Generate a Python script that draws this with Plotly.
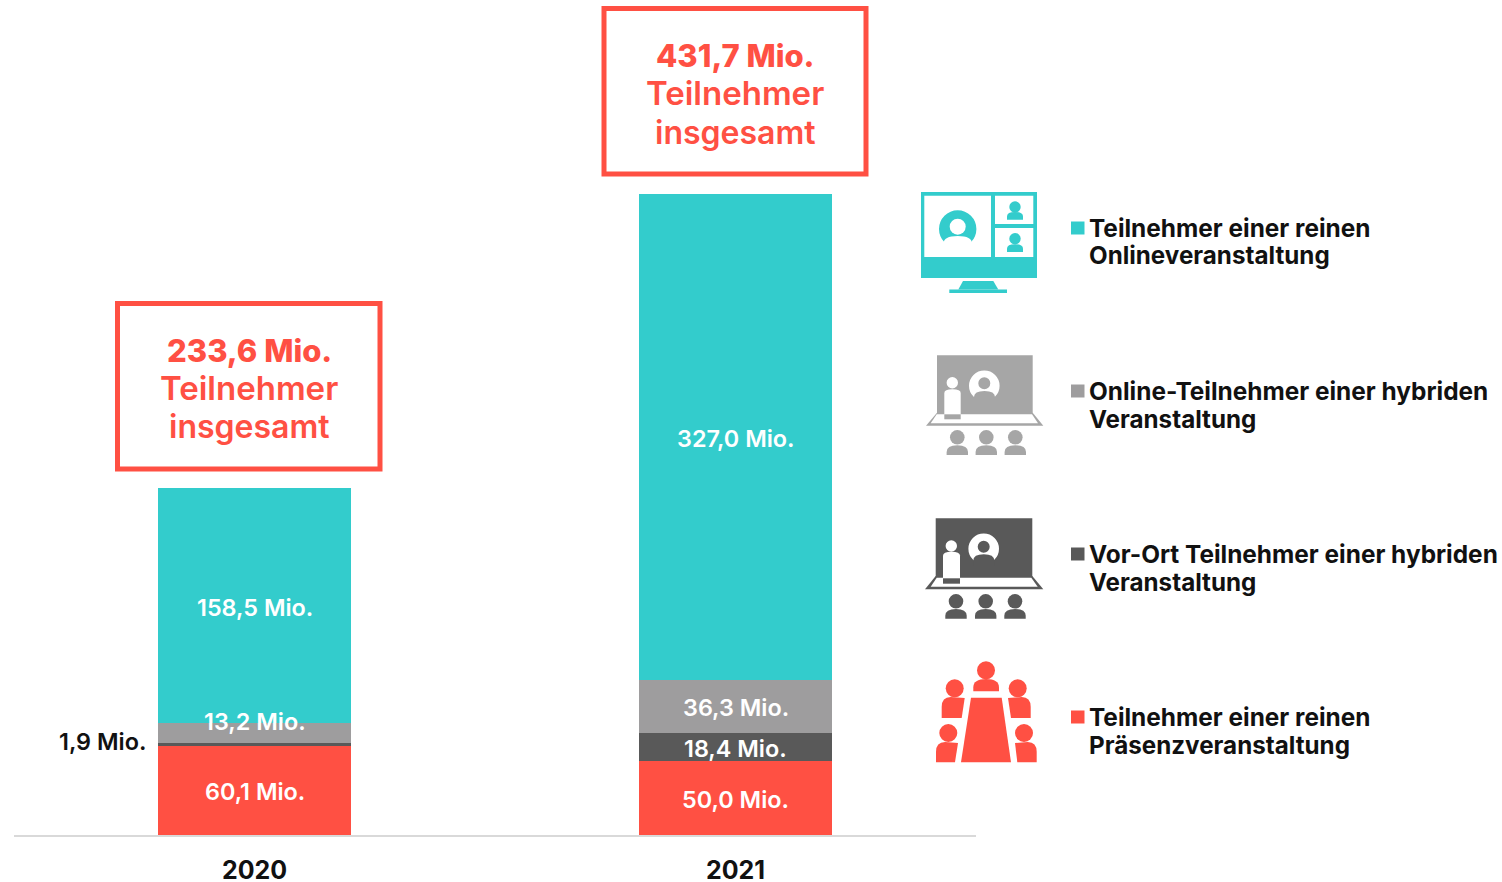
import plotly.graph_objects as go

W, H = 1502, 882
years = ["2020", "2021"]
praesenz = [60.1, 50.0]
vor_ort = [1.9, 18.4]
online_hybrid = [13.2, 36.3]
online = [158.5, 327.0]
totals = ["233,6 Mio.", "431,7 Mio."]
series_names = ["Teilnehmer einer reinen Präsenzveranstaltung", "Vor-Ort Teilnehmer einer hybriden Veranstaltung",
                "Online-Teilnehmer einer hybriden Veranstaltung", "Teilnehmer einer reinen Onlineveranstaltung"]
series_values = [praesenz, vor_ort, online_hybrid, online]
TEAL, GRAY, DARK, RED = "#33CCCC", "#9E9D9E", "#595959", "#FF5043"
ICON_GRAY = "#A6A6A6"
series_colors = [RED, DARK, GRAY, TEAL]
FONT = "Inter"

fig = go.Figure()
for name, vals, col in zip(series_names, series_values, series_colors):
    fig.add_bar(x=years, y=vals, name=name, marker=dict(color=col, line=dict(width=0)), showlegend=False)

px = lambda x: x / W
py = lambda y: (H - y) / H
shapes = []
annos = []


def rect(x0, y0, x1, y1, fill, line=None, lw=0):
    shapes.append(dict(type="rect", xref="paper", yref="paper", x0=px(x0), x1=px(x1), y0=py(y0), y1=py(y1),
                       fillcolor=fill, line=dict(color=line or fill, width=lw)))


def circle(cx, cy, r, fill):
    shapes.append(dict(type="circle", xref="paper", yref="paper", x0=px(cx - r), x1=px(cx + r), y0=py(cy - r),
                       y1=py(cy + r), fillcolor=fill, line=dict(width=0)))


def poly(pts, fill):
    d = "M" + " L".join(f"{px(x):.5f},{py(y):.5f}" for x, y in pts) + " Z"
    shapes.append(dict(type="path", xref="paper", yref="paper", path=d, fillcolor=fill, line=dict(width=0)))


def p(x, y):
    return f"{px(x):.5f},{py(y):.5f}"


def dome(l, r, top, bottom, fill, curve=0.55):
    c = (l + r) / 2
    m = top + (bottom - top) * curve
    d = f"M{p(l, bottom)} L{p(l, m)} Q{p(l, top)} {p(c, top)} Q{p(r, top)} {p(r, m)} L{p(r, bottom)} Z"
    shapes.append(dict(type="path", xref="paper", yref="paper", path=d, fillcolor=fill, line=dict(width=0)))


def side_body(outer, inner_b, inner_t, top, bottom, fill):
    # seat-side figure: rounded on its outer shoulder, slanted towards the table
    s = 1 if inner_b > outer else -1
    d = (f"M{p(outer, bottom)} L{p(inner_b, bottom)} L{p(inner_t, top + 1)} L{p(outer + s * 9, top)} "
         f"Q{p(outer, top)} {p(outer, top + 10)} Z")
    shapes.append(dict(type="path", xref="paper", yref="paper", path=d, fillcolor=fill, line=dict(width=0)))


def text(x, y, s, size, color, weight=600, xanchor="center"):
    annos.append(dict(xref="paper", yref="paper", x=px(x), y=py(y), text=s, showarrow=False, xanchor=xanchor,
                      yanchor="middle", font=dict(family=FONT, size=size, color=color, weight=weight),
                      borderpad=0, borderwidth=0))


def avatar(cx, cy, r, hy, hr, l, rr, top, bottom, ring, inner):
    circle(cx, cy, r, ring)
    circle(cx, hy, hr, inner)
    dome(l, rr, top, bottom, inner)


# Online icon
rect(921, 192, 1037, 278, TEAL)
rect(924.3, 195.7, 991, 257, "white")
rect(995, 195.7, 1033.3, 224, "white")
rect(995, 228, 1033.3, 257, "white")
poly([(963, 281), (993.3, 281), (998.3, 289.5), (958.3, 289.5)], TEAL)
rect(949.3, 289.5, 1007, 293, TEAL)
avatar(957.7, 229, 18.7, 226.7, 8, 943.5, 972, 236, 250, TEAL, "white")
for hy, t, b in [(207, 212, 219.7), (238.7, 244.3, 252)]:
    circle(1015, hy, 5.7, TEAL)
    dome(1007, 1023, t, b, TEAL)


# Hybrid icons
def hybrid(col, scr, base, inner, head, body, foot, av, aud_x, aud_hy, aud_t, aud_b):
    rect(*scr, col)
    poly(base, col)
    poly(inner, "white")
    circle(*head, "white")
    dome(*body, "white", curve=0.12)
    rect(*foot, col)
    avatar(*av, "white", col)
    for x in aud_x:
        circle(x, aud_hy, 7.3, col)
        dome(x - 10.7, x + 10.7, aud_t, aud_b, col, curve=0.7)


hybrid(ICON_GRAY, (937, 355.3, 1032.7, 415),
       [(937, 412.7), (1032.7, 412.7), (1043.3, 425.7), (926, 425.7)],
       [(936.7, 414.3), (1032, 414.3), (1038, 423.3), (930.7, 423.3)],
       (952.3, 382.7, 5.7), (944.3, 960.7, 389.3, 420), (944.3, 414.3, 960.7, 419.3),
       (984.3, 385.7, 15.3, 383.3, 6, 974, 995, 391, 402), [957.3, 986.3, 1015.3], 437.3, 445.3, 455)
hybrid(DARK, (935.7, 518.3, 1032.3, 577.3),
       [(935.7, 576), (1032.3, 576), (1043.3, 589.3), (925, 589.3)],
       [(936.7, 577.7), (1031.3, 577.7), (1037.7, 586.7), (930.7, 586.7)],
       (951.3, 546, 5.7), (943, 960, 551.7, 583.3), (943, 578.3, 960, 583.7),
       (983.7, 548.7, 15.3, 546.7, 6, 973.3, 994.3, 554.3, 566), [956, 985.7, 1015], 601.3, 609, 618.7)

# In-person icon
poly([(971, 697.7), (1001.7, 697.7), (1011, 762.3), (961, 762.3)], RED)
circle(986, 670.3, 9, RED)
dome(973.3, 999, 679, 691.3, RED, curve=0.7)
for cx, cy in [(954.7, 688.3), (1017.7, 688.3), (948.3, 733), (1024, 733)]:
    circle(cx, cy, 9, RED)
side_body(941.7, 961.7, 964.7, 697, 718, RED)
side_body(1030.7, 1011, 1008, 697, 718, RED)
side_body(936, 955, 958, 742, 762.3, RED)
side_body(1036.7, 1017.3, 1015, 742, 762.3, RED)

# Legend
legend_rows = [("Teilnehmer einer reinen", "Onlineveranstaltung", TEAL, 228),
               ("Online-Teilnehmer einer hybriden", "Veranstaltung", GRAY, 391),
               ("Vor-Ort Teilnehmer einer hybriden", "Veranstaltung", DARK, 554),
               ("Teilnehmer einer reinen", "Präsenzveranstaltung", RED, 717)]
for a, b, col, y in legend_rows:
    rect(1071, y - 6.5, 1084.5, y + 6.5, col)
    text(1089, y, a, 24.4, "#111111", 700, "left")
    text(1089, y + 28, b, 24.2, "#111111", 700, "left")

# Total boxes
boxes = [(117.5, 303.5, 380, 469, 249, 350), (604, 8.5, 866, 174, 735, 55)]
for (x0, y0, x1, y1, cx, ty), tot in zip(boxes, totals):
    rect(x0, y0, x1, y1, "white", RED, 5)
    text(cx, ty, tot, 31, RED, 800)
    text(cx, ty + 38, "Teilnehmer", 33, RED, 600)
    text(cx, ty + 77, "insgesamt", 32, RED, 600)

# Value labels, anchored through the data axes
for i, year in enumerate(years):
    base = 0
    for k, vals in enumerate(series_values):
        v = vals[i]
        label = f"{v:.1f}".replace(".", ",") + " Mio."
        a = dict(x=i, y=base + v / 2, xref="x", yref="y", text=label, showarrow=False, yshift=-1.5,
                 font=dict(family=FONT, size=23.4, color="white", weight=600))
        if year == "2020" and k == 1:
            a.update(xanchor="right", xshift=-107, yshift=3,
                     font=dict(family=FONT, size=23.4, color="#111111", weight=600))
        if year == "2020" and k == 2:
            a.update(yshift=12)
        annos.append(a)
        base += v

fig.update_layout(
    width=W, height=H, autosize=False, barmode="stack", bargap=0.6,
    margin=dict(l=0, r=0, t=0, b=0, autoexpand=False), paper_bgcolor="white", plot_bgcolor="white",
    shapes=shapes, annotations=annos, showlegend=False,
    xaxis=dict(domain=[14 / W, 976 / W], type="category", categoryorder="array", categoryarray=years,
               range=[-0.5, 1.5], showline=True, linecolor="#D9D9D9", linewidth=2, showgrid=False, zeroline=False,
               ticks="outside", ticklen=12, tickcolor="rgba(0,0,0,0)", tickwidth=1, automargin=False,
               tickfont=dict(family=FONT, size=25, color="#111111", weight=700)),
    yaxis=dict(domain=[(H - 835) / H, 1], range=[0, 835 / (641 / 431.7)], visible=False),
)
fig.write_html("out.html", config=dict(displayModeBar=False),
               post_script="document.body.style.margin='0';document.body.style.overflow='hidden';")
